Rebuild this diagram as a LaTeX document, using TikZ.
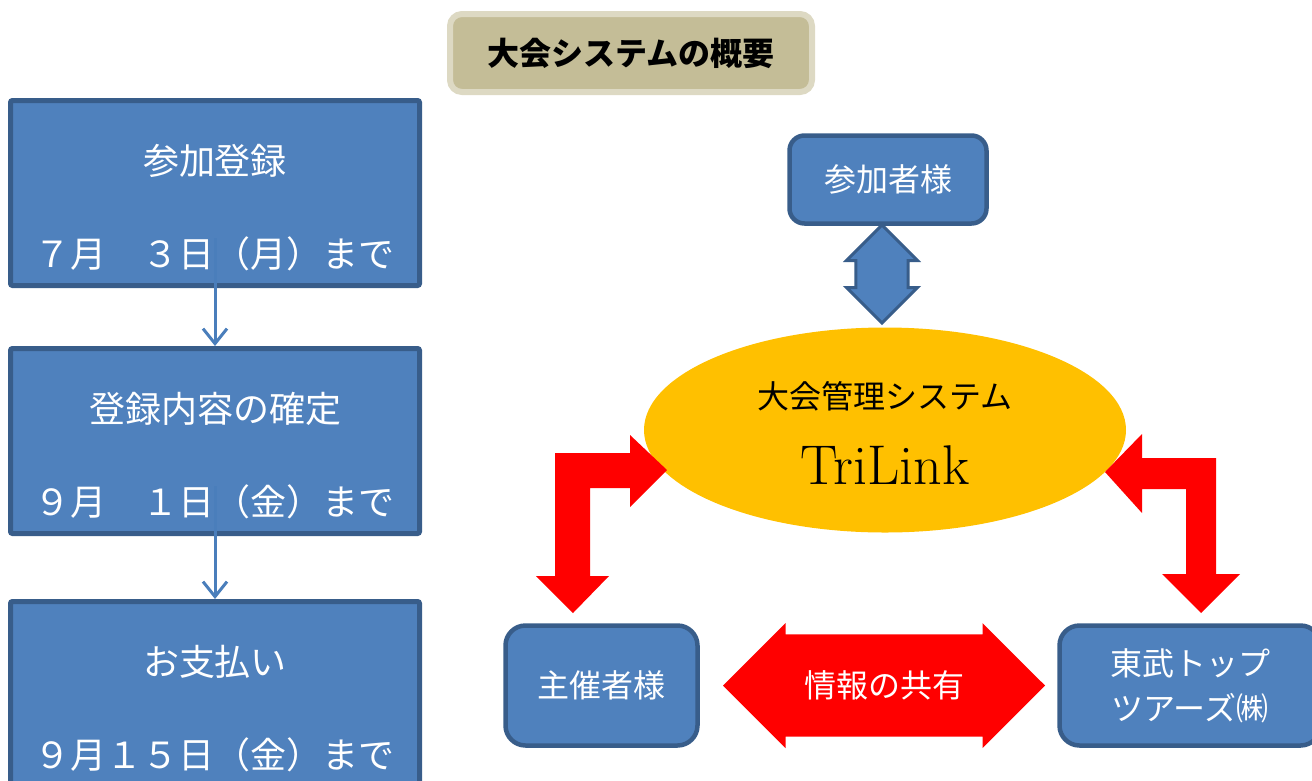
\documentclass[tikz,border=0pt]{standalone}
\usepackage{fontspec}
\newfontfamily\jp{Noto Sans CJK JP}
\usepackage{tikz}
\usetikzlibrary{calc,shapes,arrows.meta}
\definecolor{boxblue}{HTML}{4F81BD}
\definecolor{boxedge}{HTML}{385D8A}
\definecolor{flowblue}{HTML}{4A7EBB}
\definecolor{sysyellow}{HTML}{FFC000}
\definecolor{titlefill}{HTML}{C4BD97}
\definecolor{titleedge}{HTML}{DDD9C3}
\tikzstyle{titlebox}=[rectangle,draw=titleedge,fill=titlefill,line width=6pt,
                      rounded corners=12pt,minimum width=362pt,minimum height=78pt,
                      font=\jp\bfseries\fontsize{32}{38}\selectfont,inner sep=0pt]
\tikzstyle{stepbox}=[rectangle,draw=boxedge,fill=boxblue,line width=5pt,
                     rounded corners=2pt,minimum width=409pt,minimum height=185pt,
                     text=white,font=\jp\fontsize{36}{93}\selectfont,inner sep=0pt]
\tikzstyle{partybox}=[rectangle,draw=boxedge,fill=boxblue,line width=4.5pt,
                      rounded corners=18pt,text=white,align=center,
                      font=\jp\fontsize{32}{45}\selectfont,inner sep=0pt]
\tikzstyle{sysellipse}=[ellipse,fill=sysyellow,minimum width=482pt,
                        minimum height=205pt,inner sep=0pt]
\tikzstyle{flowline}=[draw=flowblue,line width=3pt,
                      -{Straight Barb[length=15pt,width=24pt]}]
\tikzstyle{linkarrow}=[double arrow,draw=boxedge,fill=boxblue,line width=3pt,
                       inner xsep=0pt,inner ysep=18pt]
\tikzstyle{sharearrow}=[double arrow,fill=red,text=white,
                        inner xsep=0pt,inner ysep=17pt,
                        font=\jp\fontsize{32}{36}\selectfont]
\newcommand\steplabel[2]{\parbox{400pt}{\centering\rule{0pt}{60pt}#1\\ #2}}
\newcommand\syslabel[2]{\parbox{270pt}{\centering\vspace*{6pt}
    {\jp\fontsize{32}{36}\selectfont #1\par}\vspace{14pt}
    {\fontsize{56}{62}\selectfont #2\par}}}

\begin{document}
\begin{tikzpicture}[x=1pt,y=-1pt]
    \clip (0,0) rectangle (1312,780);
    \node [titlebox] (title) at (631,53) {大会システムの概要};

    \node [stepbox] (reg) at (215,193) {\steplabel{参加登録}{７月　３日（月）まで}};
    \node [stepbox] (fix) at (215,441) {\steplabel{登録内容の確定}{９月　１日（金）まで}};
    \node [stepbox] (pay) at (215,694) {\steplabel{お支払い}{９月１５日（金）まで}};
    \draw [flowline,shorten <=-50pt] (reg.south) -- (fix.north);
    \draw [flowline,shorten <=-50pt] (fix.south) -- (pay.north);

    \node [partybox,minimum width=197pt,minimum height=88pt,rounded corners=15pt]
        (entrant) at (888,179.5) {参加者様};
    \node [sysellipse] (sys) at (885,430) {\syslabel{大会管理システム}{TriLink}};
    \node [linkarrow,rotate=90,minimum height=98pt,minimum width=71pt]
        (link) at (882,274) {};
    \node [partybox,minimum width=192pt,minimum height=120pt,rounded corners=20pt]
        (host) at (601.5,685.5) {主催者様};
    \node [partybox,minimum width=261pt,minimum height=120pt,rounded corners=20pt]
        (agent) at (1190,685.5) {東武トップ\\ツアーズ㈱};
    \node [sharearrow,minimum height=322pt,minimum width=125pt]
        (share) at (884,685.5) {情報の共有};

    \fill [red] (555,453) -- (630,453) -- (630,435) -- (667,470) -- (630,507)
        -- (630,488) -- (590,488) -- (590,576) -- (609,576) -- (573,613)
        -- (536,576) -- (555,576) -- cycle;
    \fill [red] (1216,458) -- (1142,458) -- (1142,434) -- (1105,472) -- (1142,513)
        -- (1142,489) -- (1186,489) -- (1186,574) -- (1162,574) -- (1201,613)
        -- (1240,574) -- (1216,574) -- cycle;
\end{tikzpicture}
\end{document}
